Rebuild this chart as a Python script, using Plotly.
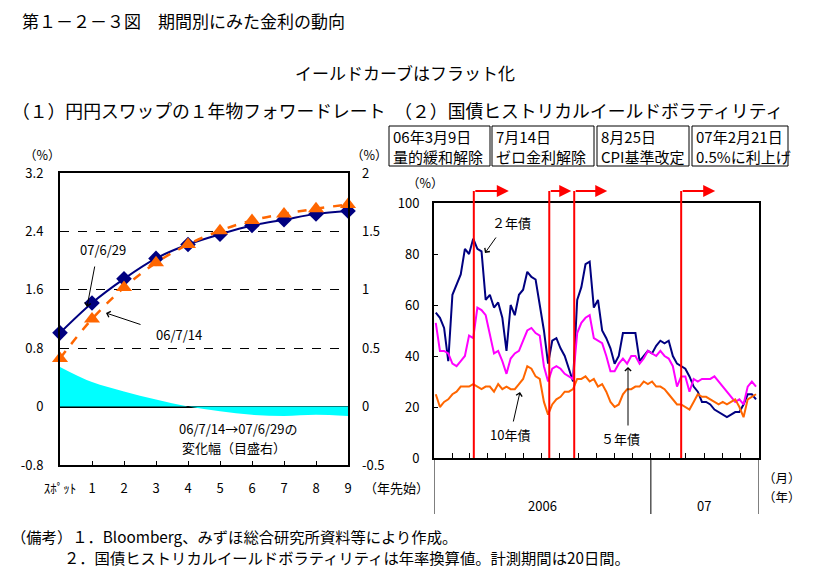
import plotly.graph_objects as go
import pandas as pd

W, H = 830, 587
def PX(x): return x / W
def PY(y): return 1 - y / H

FONT = "Noto Sans CJK JP"

# ---------------- (1) forward rates ----------------
maturity_labels = ["ｽﾎﾟｯﾄ", "1", "2", "3", "4", "5", "6", "7", "8", "9"]
maturity_pos = list(range(10))
fwd_070629 = [1.01, 1.42, 1.75, 2.03, 2.22, 2.36, 2.48, 2.56, 2.64, 2.68]
fwd_060714 = [0.66, 1.20, 1.63, 1.97, 2.22, 2.41, 2.55, 2.64, 2.71, 2.77]
change_right = [0.34, 0.21, 0.13, 0.06, 0.0, -0.04, -0.07, -0.08, -0.07, -0.08]

left_ticks = [-0.8, 0, 0.8, 1.6, 2.4, 3.2]
left_ticktext = ["-0.8", "0", "0.8", "1.6", "2.4", "3.2"]
right_ticks = [-0.5, 0, 0.5, 1, 1.5, 2]
right_ticktext = ["-0.5", "0", "0.5", "1", "1.5", "2"]

# ---------------- (2) historical volatility ----------------
week_dates = pd.date_range("2006-01-04", "2007-06-27", freq="W-WED")
vol_2y = [57, 55, 51, 38, 64, 68, 72, 82, 80, 86,
          82, 81, 62, 64, 59, 61, 55, 42, 60, 56,
          64, 66, 73, 71, 70, 60, 50, 37, 46, 47,
          43, 40, 35, 30, 62, 67, 76, 77, 59, 62,
          50, 47, 43, 37, 40, 49, 49, 49, 49, 38,
          40, 42, 41, 44, 46, 45, 46, 40, 37, 36,
          35, 32, 28, 26, 22, 22, 21, 19, 18, 17,
          16, 17, 18, 18, 21, 25, 25, 23]
vol_5y = [53, 42, 42, 41, 37, 36, 38, 40, 48, 47,
          59, 58, 56, 48, 41, 42, 38, 33, 39, 41,
          42, 46, 50, 51, 49, 48, 36, 30, 35, 36,
          35, 33, 32, 31, 49, 53, 55, 56, 47, 46,
          45, 40, 34, 34, 37, 39, 37, 40, 40, 37,
          39, 42, 41, 40, 42, 40, 39, 36, 28, 32,
          32, 26, 31, 30, 31, 31, 31, 32, 30, 28,
          26, 24, 22, 23, 21, 28, 30, 28]
vol_10y = [25, 20, 22, 23, 25, 26, 28, 28, 28, 29,
           28, 27, 28, 28, 26, 29, 27, 28, 27, 27,
           29, 31, 36, 35, 32, 31, 22, 17, 21, 23,
           24, 26, 26, 27, 31, 31, 32, 30, 31, 28,
           29, 26, 22, 20, 21, 25, 27, 27, 28, 28,
           30, 29, 30, 28, 28, 27, 25, 23, 21, 21,
           20, 19, 22, 25, 24, 24, 23, 22, 21, 22,
           21, 22, 23, 20, 16, 23, 24, 25]

event_dates = ["2006-03-09", "2006-07-14", "2006-08-25", "2007-02-21"]
event_line1 = ["06年3月9日", "7月14日", "8月25日", "07年2月21日"]
event_line2 = ["量的緩和解除", "ゼロ金利解除", "CPI基準改定", "0.5%に利上げ"]

month_label_text = [str(m) for m in range(1, 13)] + [str(m) for m in range(1, 8)]
month_label_pos = [f"2006-{m:02d}-15" for m in range(1, 13)] + [
    "2007-01-13", "2007-02-09", "2007-03-10", "2007-04-09",
    "2007-05-09", "2007-06-08", "2007-06-26"]
month_starts = pd.date_range("2006-02-01", "2007-07-01", freq="MS")
x_range = ["2006-01-01", "2007-07-02"]

NAVY = "#000080"
ORANGE = "#FF6600"
MAGENTA = "#FF00FF"
CYAN = "#00FFFF"

fig = go.Figure()

# cyan change area (right scale)
fig.add_trace(go.Scatter(x=maturity_pos, y=change_right, xaxis="x", yaxis="y2",
                         mode="lines", line=dict(width=0, shape="spline", color=CYAN),
                         fill="tozeroy", fillcolor=CYAN, hoverinfo="skip"))
fig.add_trace(go.Scatter(x=maturity_pos, y=fwd_070629, xaxis="x", yaxis="y",
                         mode="lines+markers", cliponaxis=False,
                         line=dict(color=NAVY, width=2, shape="spline"),
                         marker=dict(symbol="diamond", size=12, color=NAVY)))
fig.add_trace(go.Scatter(x=maturity_pos, y=fwd_060714, xaxis="x", yaxis="y",
                         mode="lines+markers", cliponaxis=False,
                         line=dict(color=ORANGE, width=2.5, dash="dash", shape="spline"),
                         marker=dict(symbol="triangle-up", size=14, color=ORANGE)))

# volatility lines
for vals, col in [(vol_2y, NAVY), (vol_5y, MAGENTA), (vol_10y, ORANGE)]:
    fig.add_trace(go.Scatter(x=week_dates, y=vals, xaxis="x3", yaxis="y3",
                             mode="lines", line=dict(color=col, width=2)))

axis_font = dict(family=FONT, size=13, color="black")

fig.update_layout(
    width=W, height=H, margin=dict(l=0, r=0, t=0, b=0, autoexpand=False),
    paper_bgcolor="white", plot_bgcolor="white", showlegend=False,
    font=axis_font,
    xaxis=dict(domain=[PX(60), PX(348)], range=[0, 9], anchor="y", automargin=False,
               tickvals=maturity_pos, ticktext=maturity_labels,
               ticks="inside", ticklen=4, tickcolor="black",
               showline=True, mirror=True, linewidth=2, linecolor="black",
               showgrid=False, zeroline=False, ticklabelstandoff=10,
               tickfont=axis_font),
    yaxis=dict(domain=[PY(465), PY(173)], range=[-0.8, 3.2], anchor="x", automargin=False,
               tickvals=left_ticks, ticktext=left_ticktext, ticks="",
               showgrid=True, gridcolor="black", griddash="dash", gridwidth=1,
               zeroline=True, zerolinecolor="black", zerolinewidth=1.5,
               showline=True, mirror=True, linewidth=2, linecolor="black",
               ticklabelstandoff=12, tickfont=axis_font),
    yaxis2=dict(overlaying="y", side="right", anchor="x", range=[-0.5, 2], automargin=False,
                tickvals=right_ticks, ticktext=right_ticktext, ticks="",
                showgrid=False, zeroline=False, showline=False,
                ticklabelstandoff=13, tickfont=axis_font),
    xaxis3=dict(domain=[PX(434), PX(759)], range=x_range, type="date", anchor="y3",
                automargin=False,
                tickvals=list(month_starts), ticks="inside", ticklen=5, tickcolor="black",
                showticklabels=False, showgrid=False, zeroline=False,
                showline=True, mirror=True, linewidth=2, linecolor="black"),
    xaxis4=dict(overlaying="x3", range=x_range, type="date", anchor="y3", side="bottom",
                automargin=False,
                tickvals=month_label_pos, ticktext=month_label_text, ticks="",
                showgrid=False, zeroline=False, showline=False,
                ticklabelstandoff=16, tickfont=axis_font),
    yaxis3=dict(domain=[PY(458), PY(203)], range=[0, 100], anchor="x3", automargin=False,
                tickvals=[0, 20, 40, 60, 80, 100], ticks="inside", ticklen=4,
                tickcolor="black", showgrid=False, zeroline=False,
                showline=True, mirror=True, linewidth=2, linecolor="black",
                ticklabelstandoff=10, tickfont=axis_font),
)

shapes = []
annotations = []

def txt(text, x, y, size=13, xanchor="center", xref="paper", yref="paper", pad=1):
    annotations.append(dict(text=text, x=x, y=y, xref=xref, yref=yref,
                            xanchor=xanchor, yanchor="middle", showarrow=False,
                            borderpad=pad,
                            font=dict(family=FONT, size=size, color="black")))

def arrow(xh, yh, ax, ay, color="black", head=4, width=1, size=1.2):
    annotations.append(dict(text="", x=PX(xh), y=PY(yh), xref="paper", yref="paper",
                            ax=ax, ay=ay, showarrow=True, arrowhead=head,
                            arrowwidth=width, arrowsize=size, arrowcolor=color,
                            standoff=0))

# titles
txt("第１－２－３図　期間別にみた金利の動向", PX(20), PY(20), size=17, xanchor="left")
txt("イールドカーブはフラット化", PX(405), PY(73), size=17)
txt("（１）円円スワップの１年物フォワードレート　（２）国債ヒストリカルイールドボラティリティ",
    PX(10), PY(110), size=17.8, xanchor="left")

# left chart labels
txt("（%）", PX(42), PY(154), size=12.5)
txt("（%）", PX(369), PY(154), size=12.5)
txt("（年先始）", PX(396), PY(487))
txt("07/6/29", PX(103), PY(249))
arrow(87, 307, 8, -42)
txt("06/7/14", PX(179), PY(334))
arrow(106, 313, 36, 12)
txt("06/7/14→07/6/29の", PX(238), PY(428))
txt("変化幅（目盛右）", PX(234), PY(447))

# right chart labels
txt("（%）", PX(425), PY(182), size=12.5)
txt("２年債", PX(511), PY(222))
arrow(485, 253, 12, -17)
txt("10年債", PX(510), PY(434))
arrow(520, 392, -7, 31)
txt("５年債", PX(620), PY(438))
arrow(628, 367, 0, 60)
txt("（月）", PX(782), PY(477), size=12.5)
txt("（年）", PX(782), PY(496), size=12.5)
txt("2006", "2006-07-02", PY(505), xref="x3")
txt("07", "2007-04-01", PY(505), xref="x3")

for d in ["2006-01-01", "2007-01-01", x_range[1]]:
    shapes.append(dict(type="line", xref="x3", yref="paper", x0=d, x1=d,
                       y0=PY(458), y1=PY(514), line=dict(color="black", width=1)))

# events: boxes and red arrows
box_x = [(389, 490), (492, 594), (597, 689), (692, 788)]
arrow_len = [35, 22, 33, 34]
for (x0, x1), l1, l2 in zip(box_x, event_line1, event_line2):
    shapes.append(dict(type="rect", xref="paper", yref="paper",
                       x0=PX(x0), x1=PX(x1), y0=PY(166), y1=PY(126),
                       line=dict(color="black", width=1)))
    txt(l1, PX(x0 + 2), PY(137), size=15, xanchor="left")
    txt(l2, PX(x0 + 2), PY(156), size=15, xanchor="left")

for d, L in zip(event_dates, arrow_len):
    shapes.append(dict(type="line", xref="x3", yref="paper", x0=d, x1=d,
                       y0=PY(458), y1=PY(191), line=dict(color="red", width=2)))
    annotations.append(dict(text="", xref="x3", yref="paper", x=d, y=PY(191),
                            xshift=L, ax=-L, ay=0, showarrow=True, arrowhead=2,
                            arrowsize=1.2, arrowwidth=2, arrowcolor="red", standoff=0))

# notes
txt("（備考）１．Bloomberg、みずほ総合研究所資料等により作成。", PX(10), PY(536), size=15.3, xanchor="left", pad=0)
txt("２．国債ヒストリカルイールドボラティリティは年率換算値。計測期間は20日間。", PX(63), PY(557), size=15.3, xanchor="left", pad=0)

fig.update_layout(shapes=shapes, annotations=annotations)
fig.write_html("out.html")
